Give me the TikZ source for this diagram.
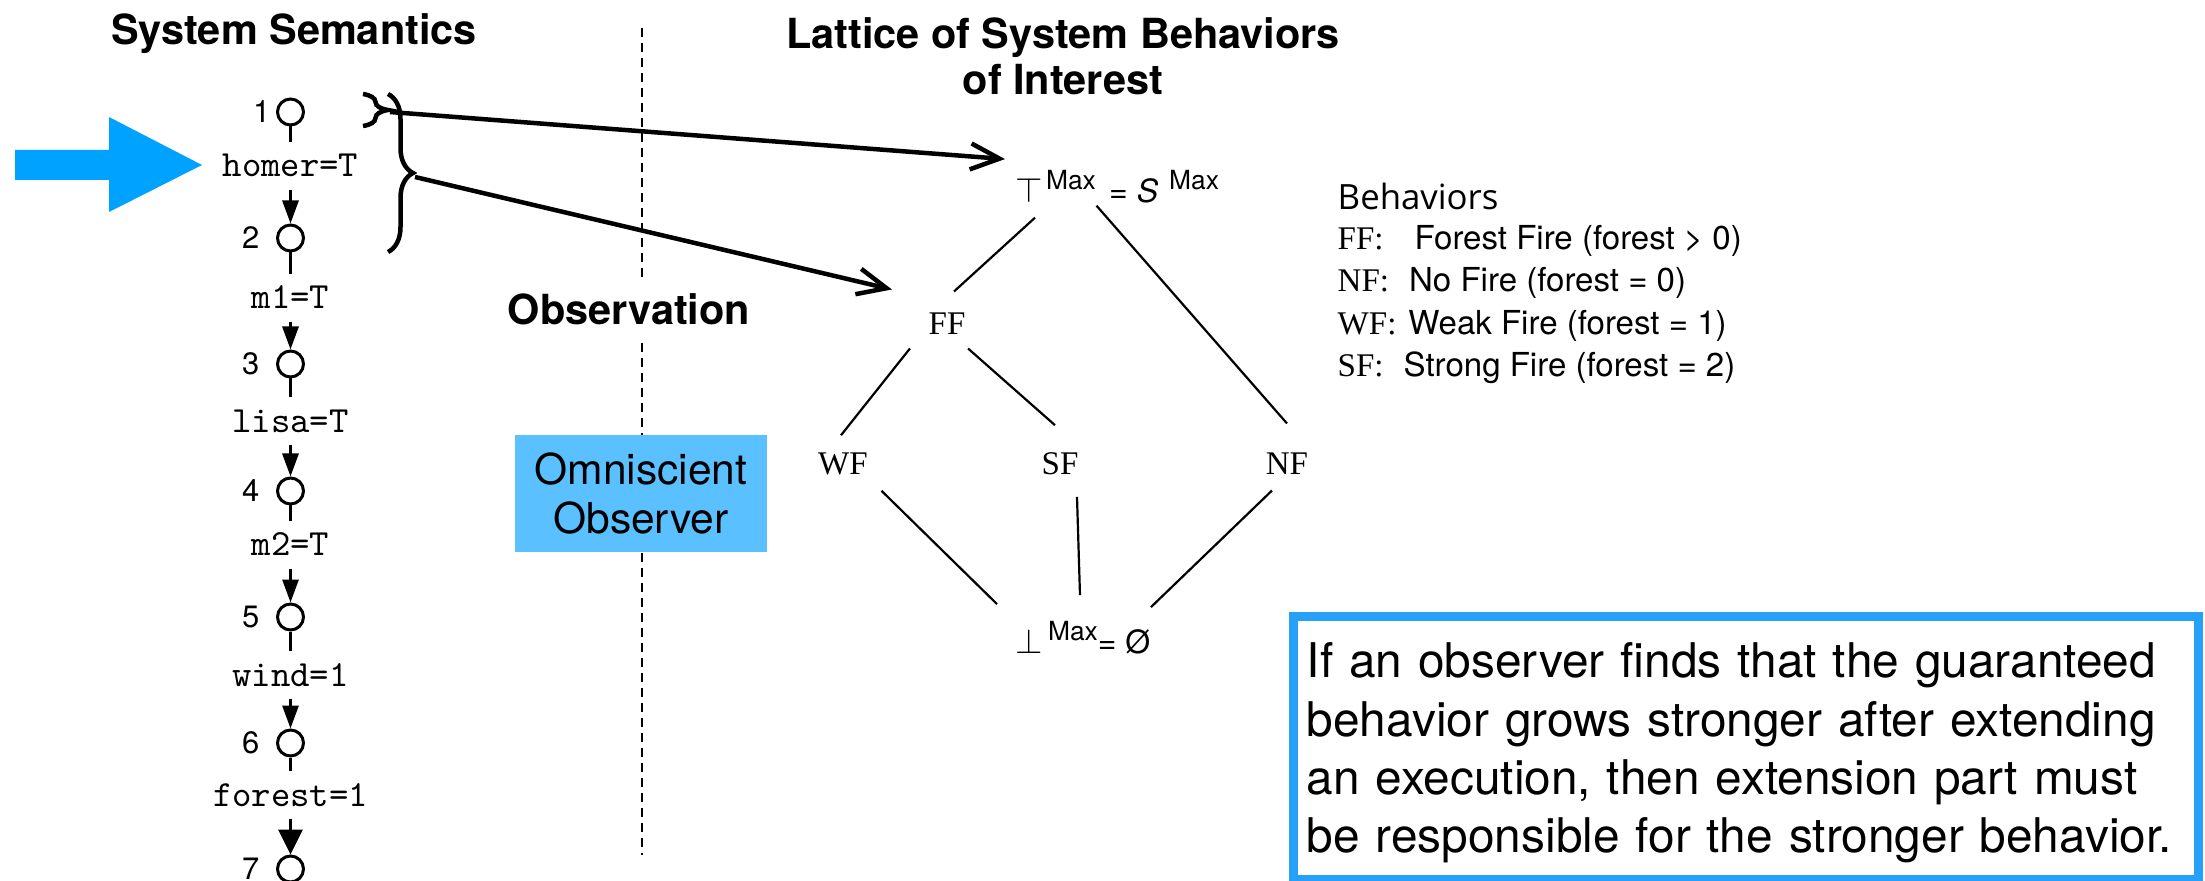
\documentclass[tikz,border=0pt]{standalone}
\usepackage{fontspec}
\setmainfont{TeX Gyre Heros}
\newfontfamily\tmsfont{Liberation Serif}
\newfontfamily\behfont{Open Sans}
\usetikzlibrary{positioning,arrows.meta,calc,decorations.pathreplacing}

\definecolor{arrowblue}{RGB}{0,162,255}
\definecolor{obsblue}{RGB}{90,192,255}
\definecolor{noteblue}{RGB}{38,160,248}

\newcommand{\maxsup}{\raisebox{1.3mm}{\fontsize{7.5pt}{8pt}\selectfont Max}}
\newcommand{\latsym}[1]{{\fontsize{10pt}{12pt}\selectfont$#1$}}

\begin{document}
\begin{tikzpicture}[
  x=1mm, y=-1mm,
  >={Triangle[length=2.3mm,width=1.6mm]},
  stnode/.style={draw, line width=0.3mm, circle, minimum size=2.6mm, inner sep=0pt},
  num/.style={font=\fontsize{8.8pt}{10pt}\selectfont, inner sep=0pt, label distance=1.6mm},
  trans/.style={font=\fontsize{10.5pt}{11pt}\ttfamily, inner xsep=0pt, inner ysep=1.2mm,
                text height=2.2mm, text depth=0pt},
  chain/.style={line width=0.3mm},
  title/.style={font=\fontsize{11.8pt}{13.1pt}\selectfont\bfseries, inner sep=0pt, align=center},
  latt/.style={font=\fontsize{9.4pt}{11pt}\tmsfont, inner sep=0pt},
  extr/.style={font=\fontsize{9.1pt}{11pt}\selectfont, inner sep=0pt},
  lline/.style={line width=0.22mm},
  brc/.style={decorate, decoration={brace, amplitude=2.5mm}, line width=0.45mm},
  obsarrow/.style={line width=0.45mm, -{Straight Barb[length=2.9mm,width=2.6mm]}},
  sepline/.style={line width=0.2mm, dash pattern=on 0.9mm off 0.6mm},
  omni/.style={fill=obsblue, minimum width=25.2mm, minimum height=11.7mm, align=center,
               font=\fontsize{12.1pt}{13.9pt}\selectfont},
  blist/.style={font=\fontsize{9.4pt}{11pt}\selectfont, inner sep=0pt},
  note/.style={draw=noteblue, line width=0.85mm, inner xsep=1.35mm, inner ysep=1.6mm,
               text width=87.8mm, align=left, font=\fontsize{13.6pt}{16.6pt}\selectfont}
]
\useasboundingbox (0,0) rectangle (220.5,88.1);

% ---------- garis pemisah ----------
\coordinate (septop) at (64.2,2.8);
\coordinate (sepbot) at (64.2,85.5);
\draw[sepline] (septop) -- (sepbot);

% ---------- judul ----------
\node[title, anchor=base]  (semtitle)  at (29.4,4.5)  {System Semantics};
\node[title, anchor=north] (lattitle)  at (106.3,1.7) {Lattice of System Behaviors\\of Interest};
\node[title, anchor=base, fill=white, inner ysep=1.6mm] (obs) at (62.9,32.5) {Observation};
\node[omni] (omni) at (64.1,49.35) {Omniscient\\Observer};

% ---------- panah biru ----------
\fill[arrowblue] (1.5,15.0) -- (10.9,15.0) -- (10.9,11.7) -- (20.2,16.5)
                 -- (10.9,21.2) -- (10.9,18.0) -- (1.5,18.0) -- cycle;

% ---------- eksekusi (state + transisi) ----------
\node[stnode, label={[num, label distance=0.5mm]left:1}] (st1) at (29.05,11.2) {};
\node[stnode, label={[num]left:2}] (st2) at (29.05,23.8) {};
\node[stnode, label={[num]left:3}] (st3) at (29.05,36.4) {};
\node[stnode, label={[num]left:4}] (st4) at (29.05,49.1) {};
\node[stnode, label={[num]left:5}] (st5) at (29.05,61.7) {};
\node[stnode, label={[num]left:6}] (st6) at (29.05,74.3) {};
\node[stnode, label={[num]left:7}] (st7) at (29.05,86.9) {};

\node[trans] (t1) at (29.05,16.6) {homer=T};
\node[trans] (t2) at (29.05,29.8) {m1=T};
\node[trans] (t3) at (29.05,42.1) {lisa=T};
\node[trans] (t4) at (29.05,54.5) {m2=T};
\node[trans] (t5) at (29.05,67.5) {wind=1};
\node[trans] (t6) at (29.05,79.5) {forest=1};

\draw[chain]    (st1) -- (t1);
\draw[chain,->] (t1)  -- (st2);
\draw[chain]    (st2) -- (t2);
\draw[chain,->] (t2)  -- (st3);
\draw[chain]    (st3) -- (t3);
\draw[chain,->] (t3)  -- (st4);
\draw[chain]    (st4) -- (t4);
\draw[chain,->] (t4)  -- (st5);
\draw[chain]    (st5) -- (t5);
\draw[chain,->] (t5)  -- (st6);
\draw[chain]    (st6) -- (t6);
\draw[chain,-{Triangle[length=2.5mm,width=2.4mm]}] (t6) -- (st7);

% ---------- kurung kurawal ----------
\draw[brc] (36.3,9.4) -- (36.3,12.6);
\draw[brc] (38.8,9.4) -- (38.8,25.2);
\coordinate (brsm)  at (39.0,11.2);
\coordinate (brbig) at (41.5,17.7);

% ---------- lattice ----------
\node[extr, anchor=base west] (top)   at (101.5,20.3) {\latsym{\top}\hspace{0.3mm}\maxsup};
\node[extr, anchor=base west] (topeq) at ($(top.base east)+(1.2,0)$) {= \textit{S}\hspace{1.1mm}\maxsup};
\node[latt] (ff) at (94.7,32.4)  {FF};
\node[latt] (wf) at (84.3,46.4)  {WF};
\node[latt] (sf) at (106.0,46.4) {SF};
\node[latt] (nf) at (128.7,46.4) {NF};
\node[extr, anchor=base west] (bot) at (101.5,65.3) {\latsym{\bot}\hspace{0.5mm}\maxsup= Ø};

\draw[lline] ($(top.south west)+(2.0,1.4)$) -- ($(ff.north)+(0.7,-2.1)$);
\draw[lline] ($(top.south east)+(0,0.2)$)   -- ($(nf.north)+(0,-2.9)$);
\draw[lline] ($(ff.south west)+(-1.8,1.3)$) -- ($(wf.north)+(-0.2,-1.7)$);
\draw[lline] ($(ff.south east)+(0.2,1.3)$)  -- ($(sf.north)+(-0.5,-2.7)$);
\draw[lline] ($(wf.south east)+(1.3,1.5)$)  -- ($(bot.north west)+(-1.8,-1.6)$);
\draw[lline] ($(sf.south)+(1.7,2.1)$)       -- ($(bot.north)+(-0.3,-2.5)$);
\draw[lline] ($(nf.south)+(-1.5,1.5)$)      -- ($(bot.north east)+(0,-1.3)$);

% ---------- panah observasi ----------
\draw[obsarrow] (brsm)  -- ($(top.north west)+(-1.0,-1.1)$);
\draw[obsarrow] (brbig) -- ($(ff.north west)+(-3.6,-2.3)$);

% ---------- daftar perilaku ----------
\node[font=\fontsize{9.9pt}{11pt}\behfont, inner sep=0pt, anchor=base west] (beh) at (133.7,21.0) {Behaviors};
\node[blist, anchor=base west] (bff) at (133.7,25.0) {{\tmsfont FF:}\hspace{3.1mm}Forest Fire (forest > 0)};
\node[blist, anchor=base west] (bnf) at (133.7,29.2) {{\tmsfont NF:}\hspace{2.0mm}No Fire (forest = 0)};
\node[blist, anchor=base west] (bwf) at (133.7,33.5) {{\tmsfont WF:}\hspace{1.2mm}Weak Fire (forest = 1)};
\node[blist, anchor=base west] (bsf) at (133.7,37.7) {{\tmsfont SF:}\hspace{2.0mm}Strong Fire (forest = 2)};

% ---------- catatan ----------
\node[note, anchor=north west] (note) at (128.9,61.2)
  {\rule{0pt}{4.55mm}If an observer finds that the guaranteed\\
   behavior grows stronger after extending\\
   an execution, then extension part must\\
   be responsible for the stronger behavior.};

\end{tikzpicture}
\end{document}
